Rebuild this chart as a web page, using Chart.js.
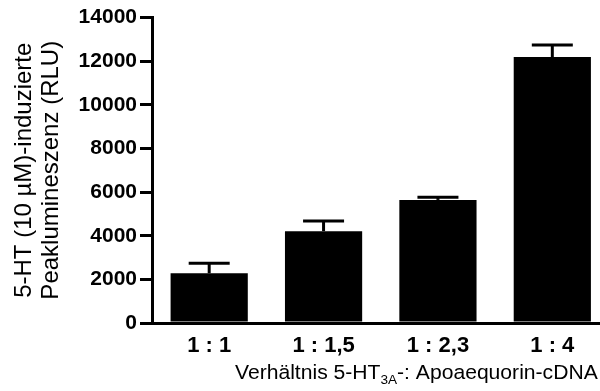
<!DOCTYPE html>
<html>
<head>
<meta charset="utf-8">
<script src="https://cdn.jsdelivr.net/npm/chart.js@4/dist/chart.umd.min.js"></script>
<style>
    body { margin: 0; overflow: hidden; background: #fff; }
    canvas { display: block; }
</style>
</head>
<body>
<canvas id="lumiChart" width="612" height="391"></canvas>
<script>
// ratios of 5-HT3A : apoaequorin cDNA
var ratioLabels = ["1 : 1", "1 : 1,5", "1 : 2,3", "1 : 4"];
var peakRLU = [2280, 4210, 5640, 12190];
var peakSEM = [460, 460, 120, 550];
var yTicks = [0, 2000, 4000, 6000, 8000, 10000, 12000, 14000];
var yTitleLines = ["5-HT (10 µM)-induzierte", "Peaklumineszenz (RLU)"];
var xTitleParts = ["Verhältnis 5-HT", "3A", "-: Apoaequorin-cDNA"];

var fontFam = "'Liberation Sans', Arial, sans-serif";

// error bars (upper half only), drawn from the data through the scales
var errorBarPlugin = {
    id: 'errorBars',
    afterDatasetsDraw: function(chart){
        var ctx = chart.ctx,
            yScale = chart.scales.y,
            meta = chart.getDatasetMeta(0);
        ctx.save();
        ctx.strokeStyle = "#000";
        for(var i = 0; i < peakRLU.length; i++){
            var x = meta.data[i].x,
                yBar = yScale.getPixelForValue(peakRLU[i]),
                yTop = yScale.getPixelForValue(peakRLU[i] + peakSEM[i]);
            ctx.lineWidth = 3;
            ctx.beginPath();
            ctx.moveTo(x, yBar);
            ctx.lineTo(x, yTop);
            ctx.stroke();
            ctx.beginPath();
            ctx.moveTo(x - 20.5, yTop);
            ctx.lineTo(x + 20.5, yTop);
            ctx.stroke();
        }
        ctx.restore();
    }
};

// x title with the subscript 3A, fitted between 235 and 598
var xTitlePlugin = {
    id: 'xTitleSub',
    afterDraw: function(chart){
        var ctx = chart.ctx,
            left = 235,
            right = 598,
            base = 378.5,
            big = 21,
            small = 13.5;
        ctx.save();
        ctx.fillStyle = "#000";
        ctx.textBaseline = "alphabetic";
        ctx.textAlign = "left";
        ctx.font = big + "px " + fontFam;
        var w = ctx.measureText(xTitleParts[0]).width + ctx.measureText(xTitleParts[2]).width;
        ctx.font = small + "px " + fontFam;
        w += ctx.measureText(xTitleParts[1]).width;
        var k = (right - left) / w;
        big = big * k;
        small = small * k;
        var x = left;
        ctx.font = big + "px " + fontFam;
        ctx.fillText(xTitleParts[0], x, base);
        x += ctx.measureText(xTitleParts[0]).width;
        ctx.font = small + "px " + fontFam;
        ctx.fillText(xTitleParts[1], x, base + 5);
        x += ctx.measureText(xTitleParts[1]).width;
        ctx.font = big + "px " + fontFam;
        ctx.fillText(xTitleParts[2], x, base);
        ctx.restore();
    }
};

var ctx = document.getElementById("lumiChart").getContext("2d");
var lumiChart = new Chart(ctx, {
    type: 'bar',
    data: {
        labels: ratioLabels,
        datasets: [{
            data: peakRLU,
            backgroundColor: "#000",
            borderWidth: 0,
            barPercentage: 0.675,
            categoryPercentage: 1.0
        }]
    },
    options: {
        responsive: false,
        animation: false,
        layout: { padding: { top: 17.5, right: 2.5, bottom: 0, left: 0 } },
        plugins: {
            legend: { display: false },
            tooltip: { enabled: false }
        },
        scales: {
            x: {
                grid: { display: false, drawTicks: false },
                border: { display: true, color: "#000", width: 3 },
                ticks: {
                    color: "#000",
                    padding: 10,
                    font: { family: fontFam, size: 22, weight: 'bold' }
                },
                afterFit: function(scale){ scale.height = 68; }
            },
            y: {
                min: 0,
                max: 14000,
                afterBuildTicks: function(scale){
                    scale.ticks = yTicks.map(function(v){ return { value: v }; });
                },
                grid: {
                    drawOnChartArea: false,
                    drawTicks: true,
                    tickLength: 12,
                    lineWidth: 3,
                    color: "#000"
                },
                border: { display: true, color: "#000", width: 3 },
                ticks: {
                    color: "#000",
                    padding: 3,
                    font: { family: fontFam, size: 21, weight: 'bold' },
                    callback: function(value){ return String(value); }
                },
                title: {
                    display: true,
                    text: yTitleLines,
                    color: "#000",
                    padding: { top: 10.5, bottom: 0 },
                    font: { family: fontFam, size: 24, lineHeight: 1.125 }
                },
                afterFit: function(scale){ scale.width = 152; }
            }
        }
    },
    plugins: [errorBarPlugin, xTitlePlugin]
});
</script>
</body>
</html>
